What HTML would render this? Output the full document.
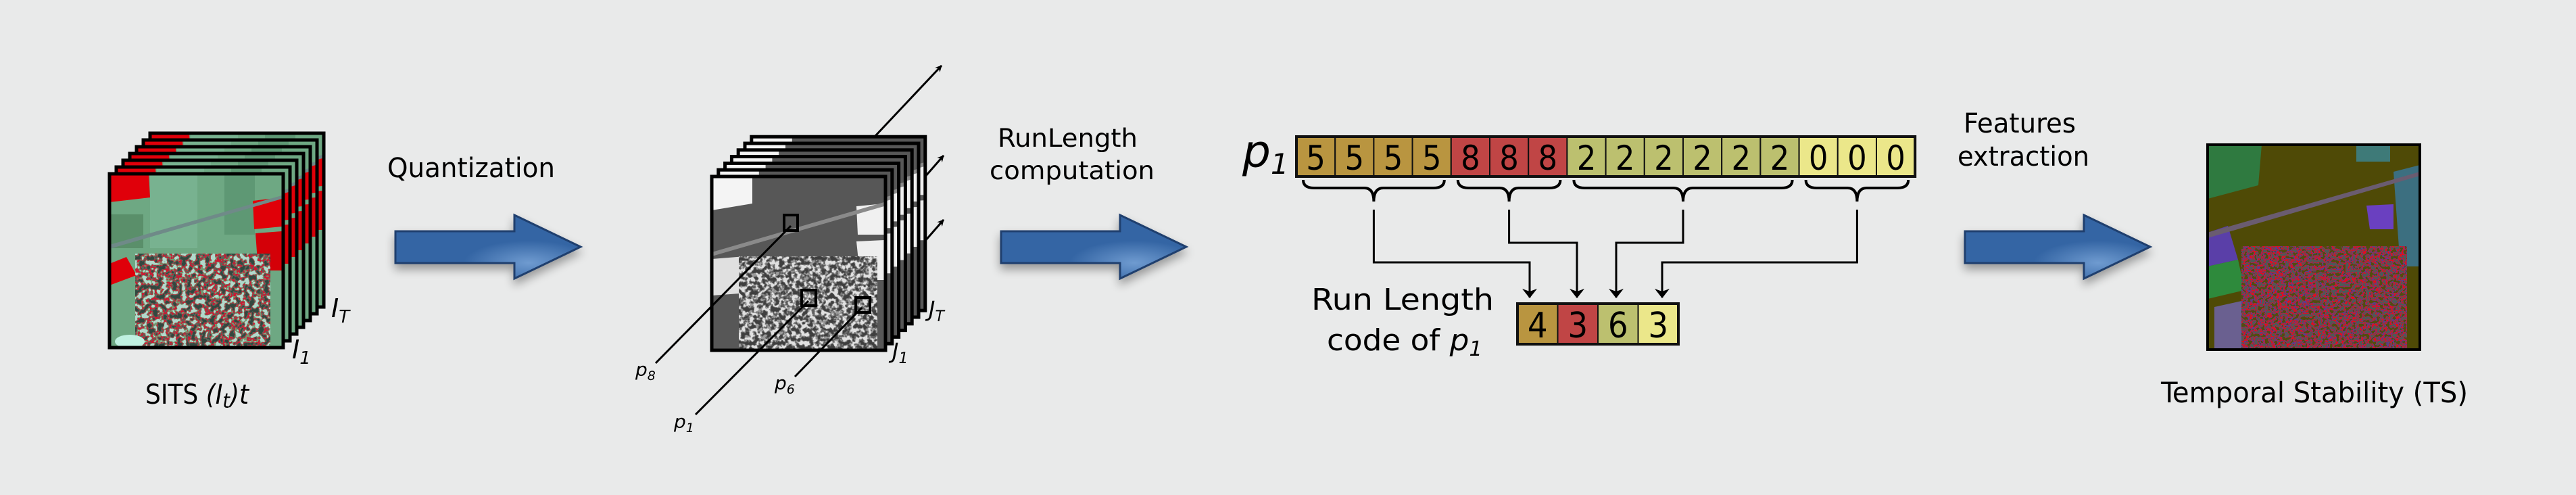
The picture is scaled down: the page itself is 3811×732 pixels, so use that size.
<!DOCTYPE html>
<html><head><meta charset="utf-8"><style>
html,body{margin:0;padding:0;background:#e9eaea;}
svg{display:block;}
filter{color-interpolation-filters:sRGB;}
text{font-family:"DejaVu Sans","Liberation Sans",sans-serif;fill:#000;}
.cond{font-family:"DejaVu Sans Condensed","DejaVu Sans","Liberation Sans",sans-serif;}
</style></head><body>
<svg id="fig" width="3811" height="732" viewBox="0 0 3811 732" xmlns="http://www.w3.org/2000/svg">
<defs>
 <filter id="village" x="0" y="0" width="100%" height="100%" color-interpolation-filters="sRGB">
  <feTurbulence type="fractalNoise" baseFrequency="0.14" numOctaves="2" seed="4"/>
  <feColorMatrix type="matrix" values="3 0 0 0 -1  3 0 0 0 -1  3 0 0 0 -1  0 0 0 0 1"/>
  <feComponentTransfer>
   <feFuncR type="discrete" tableValues="0.2 0.35 0.8 0.45 0.7"/>
   <feFuncG type="discrete" tableValues="0.28 0.4 0.1 0.6 0.85"/>
   <feFuncB type="discrete" tableValues="0.25 0.35 0.2 0.45 0.8"/>
  </feComponentTransfer>
 </filter>
 <filter id="grayvillage" x="0" y="0" width="100%" height="100%" color-interpolation-filters="sRGB">
  <feTurbulence type="fractalNoise" baseFrequency="0.16" numOctaves="2" seed="7"/>
  <feColorMatrix type="matrix" values="3 0 0 0 -1  3 0 0 0 -1  3 0 0 0 -1  0 0 0 0 1"/>
  <feComponentTransfer>
   <feFuncR type="discrete" tableValues="0.25 0.38 0.6 0.88"/>
   <feFuncG type="discrete" tableValues="0.25 0.38 0.6 0.88"/>
   <feFuncB type="discrete" tableValues="0.25 0.38 0.6 0.88"/>
  </feComponentTransfer>
 </filter>
 <filter id="tsnoise" x="0" y="0" width="100%" height="100%" color-interpolation-filters="sRGB">
  <feTurbulence type="fractalNoise" baseFrequency="0.2" numOctaves="2" seed="11"/>
  <feColorMatrix type="matrix" values="3 0 0 0 -1  3 0 0 0 -1  3 0 0 0 -1  0 0 0 0 1"/>
  <feComponentTransfer>
   <feFuncR type="discrete" tableValues="0.33 0.35 0.9 0.3"/>
   <feFuncG type="discrete" tableValues="0.3 0.25 0.05 0.35"/>
   <feFuncB type="discrete" tableValues="0.05 0.55 0.1 0.35"/>
  </feComponentTransfer>
 </filter>
 <radialGradient id="arrowGlow" cx="0.72" cy="0.75" r="0.35">
  <stop offset="0" stop-color="#6f9bd0"/><stop offset="1" stop-color="#3465a4"/>
 </radialGradient>
 <filter id="shadow" x="-20%" y="-20%" width="140%" height="160%" color-interpolation-filters="sRGB">
  <feGaussianBlur in="SourceAlpha" stdDeviation="7"/>
  <feOffset dx="0" dy="8" result="b"/>
  <feComponentTransfer><feFuncA type="linear" slope="0.35"/></feComponentTransfer>
  <feMerge><feMergeNode/><feMergeNode in="SourceGraphic"/></feMerge>
 </filter>
 <marker id="ah" markerWidth="10" markerHeight="10" refX="9" refY="5" orient="auto" markerUnits="userSpaceOnUse">
  <path d="M0,0 L10,5 L0,10 L3,5 Z" fill="#000"/>
 </marker>
 <marker id="ahBig" markerWidth="14" markerHeight="22" refX="13" refY="11" orient="auto" markerUnits="userSpaceOnUse">
  <path d="M0,0 L14,11 L0,22 L4,11 Z" fill="#000"/>
 </marker>
 <clipPath id="sq"><rect x="0" y="0" width="257" height="257"/></clipPath>

 <g id="sitsImg" clip-path="url(#sq)">
  <rect width="257" height="257" fill="#6ea883"/>
  <rect x="60" y="0" width="70" height="110" fill="#78b290"/>
  <rect x="170" y="0" width="45" height="90" fill="#5e9874"/>
  <polygon points="0,0 58,0 60,35 0,42" fill="#e0000a"/>
  <polygon points="212,40 255,35 255,78 214,82" fill="#e00008"/>
  <polygon points="216,88 255,85 255,143 220,143" fill="#d40008"/>
  <polygon points="0,133 25,123 40,150 0,165" fill="#e0000a"/>
  <rect x="0" y="60" width="50" height="50" fill="#5a8f6a"/>
  <rect x="38" y="118" width="200" height="139" filter="url(#village)"/>
  <polygon points="0,105 255,32 255,37 0,111" fill="#6f8a88"/>
  <ellipse cx="30" cy="248" rx="22" ry="10" fill="#bff0e0"/>
 </g>
 <g id="grayImg" clip-path="url(#sq)">
  <rect width="257" height="257" fill="#575757"/>
  <polygon points="0,0 60,0 60,40 0,50" fill="#f4f4f4"/>
  <polygon points="214,44 255,40 255,86 216,86" fill="#f0f0f0"/>
  <polygon points="214,96 255,94 255,153 220,153" fill="#eeeeee"/>
  <polygon points="0,122 50,118 55,172 0,176" fill="#e0e0e0"/>
  <rect x="40" y="118" width="205" height="139" filter="url(#grayvillage)"/>
  <polygon points="0,112 255,38 255,44 0,118" fill="#8a8a8a"/>
 </g>
</defs>

<rect width="3811" height="732" fill="#e9eaea"/>

<g id="sitsStack"></g>
<text x="490" y="469" font-style="italic" font-size="38">I<tspan font-size="26" dy="8">T</tspan></text>
<text x="432" y="530" font-style="italic" font-size="38">I<tspan font-size="26" dy="8">1</tspan></text>
<text class="cond" x="215" y="597" font-size="40">SITS <tspan font-style="italic">(I<tspan font-size="30" dy="6">t</tspan><tspan dy="-6">)t</tspan></tspan></text>

<text class="cond" x="573" y="262" font-size="40" textLength="248" lengthAdjust="spacingAndGlyphs">Quantization</text>
<g id="arrow1"></g>

<g id="grayStack"></g>
<line x1="1294" y1="202" x2="1393" y2="97" stroke="#000" stroke-width="3" marker-end="url(#ah)"/>
<line x1="1368" y1="262" x2="1396" y2="230" stroke="#000" stroke-width="3" marker-end="url(#ah)"/>
<line x1="1368" y1="357" x2="1396" y2="325" stroke="#000" stroke-width="3" marker-end="url(#ah)"/>
<rect x="1160" y="318" width="20" height="23" fill="none" stroke="#000" stroke-width="4"/>
<rect x="1186" y="429" width="21" height="23" fill="none" stroke="#000" stroke-width="4"/>
<rect x="1266" y="440" width="21" height="22" fill="none" stroke="#000" stroke-width="4"/>
<line x1="1170" y1="334" x2="970" y2="537" stroke="#000" stroke-width="3"/>
<line x1="1196" y1="445" x2="1029" y2="613" stroke="#000" stroke-width="3"/>
<line x1="1275" y1="455" x2="1176" y2="557" stroke="#000" stroke-width="3"/>
<text x="940" y="556" font-style="italic" font-size="28">p<tspan font-size="19" dy="6">8</tspan></text>
<text x="997" y="633" font-style="italic" font-size="28">p<tspan font-size="19" dy="6">1</tspan></text>
<text x="1146" y="576" font-style="italic" font-size="28">p<tspan font-size="19" dy="6">6</tspan></text>
<text x="1374" y="468" font-style="italic" font-size="32">J<tspan font-size="22" dy="7">T</tspan></text>
<text x="1320" y="530" font-style="italic" font-size="32">J<tspan font-size="22" dy="7">1</tspan></text>

<text x="1476" y="217" font-size="37" textLength="207" lengthAdjust="spacingAndGlyphs">RunLength</text>
<text x="1464" y="265" font-size="37" textLength="244" lengthAdjust="spacingAndGlyphs">computation</text>
<g id="arrow2"></g>

<text x="1838" y="247" font-style="italic" font-size="66">p<tspan font-size="42" dy="10">1</tspan></text>
<g id="seq"></g>
<g id="braces"></g>
<g id="links"></g>
<g id="code"></g>
<text class="cond" x="1940" y="458" font-size="44" textLength="270" lengthAdjust="spacingAndGlyphs">Run Length</text>
<text class="cond" x="1963" y="518" font-size="44" textLength="230" lengthAdjust="spacingAndGlyphs">code of <tspan font-style="italic">p<tspan font-size="30" dy="8">1</tspan></tspan></text>

<text class="cond" x="2905" y="196" font-size="40" textLength="166" lengthAdjust="spacingAndGlyphs">Features</text>
<text class="cond" x="2896" y="245" font-size="40" textLength="195" lengthAdjust="spacingAndGlyphs">extraction</text>
<g id="arrow3"></g>

<g>
 <svg x="3266" y="214" width="314" height="303" viewBox="0 0 314 303">
  <rect width="314" height="303" fill="#4f4a06"/>
  <polygon points="0,0 80,0 75,60 0,80" fill="#2f7a40"/>
  <rect x="220" y="0" width="50" height="25" fill="#3e7a78"/>
  <polygon points="275,40 314,30 314,180 285,180" fill="#3c6f80"/>
  <polygon points="235,90 275,88 275,125 240,125" fill="#6a40c0"/>
  <polygon points="0,130 30,120 45,170 0,180" fill="#5a3fa8"/>
  <polygon points="0,180 45,170 55,215 0,228" fill="#2e8a3c"/>
  <polygon points="10,240 55,230 60,303 10,303" fill="#6a6090"/>
  <rect x="50" y="150" width="245" height="153" filter="url(#tsnoise)"/>
  <polygon points="0,130 314,40 314,46 0,138" fill="#6a5c70"/>
 </svg>
 <rect x="3266" y="214" width="314" height="303" fill="none" stroke="#000" stroke-width="4"/>
</g>
<text class="cond" x="3197" y="595" font-size="42" textLength="454" lengthAdjust="spacingAndGlyphs">Temporal Stability (TS)</text>
</svg>

<script>
const NS = 'http://www.w3.org/2000/svg';
const seqValues = [5,5,5,5,8,8,8,2,2,2,2,2,2,0,0,0];
const colorKeys = [5,8,2,0];
const colorVals = ['#b99540','#c04545','#bcc06f','#ebe78a'];
function mk(tag, attrs, parent){ const e=document.createElementNS(NS,tag); for(const k in attrs) e.setAttribute(k,attrs[k]); parent.appendChild(e); return e; }
function colorOf(v){ return colorVals[colorKeys.indexOf(v)]; }

function stack(gid, useId, fx, fy, n, step, name){
  const g=document.getElementById(gid);
  for(let i=n-1;i>=0;i--){
    const x=fx+i*step, y=fy-i*step;
    const u=mk('use',{href:'#'+useId, x:x, y:y},g);
    
    
    const r=mk('rect',{x:x,y:y,width:257,height:257,fill:'none',stroke:'#000','stroke-width':5},g);
    
    
  }
}
stack('sitsStack','sitsImg',162,257,7,10,'sits');
stack('grayStack','grayImg',1053,261,7,9.8,'quantized');

function bigArrow(gid,x0){
  const g=document.getElementById(gid);
  const pts=[[0,342],[176,342],[176,318],[274,365],[176,412],[176,389],[0,389]].map(p=>(x0+p[0])+','+p[1]).join(' ');
  const p=mk('polygon',{points:pts,fill:'url(#arrowGlow)',stroke:'#1f3f6e','stroke-width':3,filter:'url(#shadow)'},g);
  
  
}
bigArrow('arrow1',585); bigArrow('arrow2',1481); bigArrow('arrow3',2907);

const seqX0=1918, cellW=57.2, seqY=202, seqH=59;
const seqG=document.getElementById('seq');
seqValues.forEach((v,i)=>{
  const r=mk('rect',{x:seqX0+i*cellW,y:seqY,width:cellW,height:seqH,fill:colorOf(v),stroke:'#111','stroke-width':2},seqG);
  
  
  const t=mk('text',{x:seqX0+i*cellW+cellW/2,y:seqY+49,'font-size':50,'text-anchor':'middle',class:'cond'},seqG);
  t.textContent=v;
  
  
});
mk('rect',{x:seqX0,y:seqY,width:cellW*seqValues.length,height:seqH,fill:'none',stroke:'#111','stroke-width':4},seqG);

const runs=[];
seqValues.forEach((v,i)=>{ if(i===0||v!==seqValues[i-1]) runs.push({v:v,start:i,len:1}); else runs[runs.length-1].len++; });

const bG=document.getElementById('braces');
const tips=[];
runs.forEach(r=>{
  const x1=seqX0+r.start*cellW+10, x2=seqX0+(r.start+r.len)*cellW-10, m=(x1+x2)/2;
  tips.push(m);
  const d=`M${x1},266 Q${x1},278 ${x1+16},278 L${m-14},278 Q${m},278 ${m},298 Q${m},278 ${m+14},278 L${x2-16},278 Q${x2},278 ${x2},266`;
  const p=mk('path',{d:d,fill:'none',stroke:'#000','stroke-width':4},bG);
  
  
});

const codeX0=2245, codeW=59.5, codeY=449, codeH=60;
const cG=document.getElementById('code');
runs.forEach((r,i)=>{
  const rc=mk('rect',{x:codeX0+i*codeW,y:codeY,width:codeW,height:codeH,fill:colorOf(r.v),stroke:'#111','stroke-width':2},cG);
  
  
  const t=mk('text',{x:codeX0+i*codeW+codeW/2,y:codeY+50,'font-size':52,'text-anchor':'middle',class:'cond'},cG);
  t.textContent=r.len;
  
  
});
mk('rect',{x:codeX0,y:codeY,width:codeW*runs.length,height:codeH,fill:'none',stroke:'#111','stroke-width':4},cG);

const lG=document.getElementById('links');
const elbowY=[388,359,359,388];
const dropX=[2263,2333,2391,2459];
tips.forEach((tx,i)=>{
  const d=`M${tx},310 L${tx},${elbowY[i]} L${dropX[i]},${elbowY[i]} L${dropX[i]},440`;
  const p=mk('path',{d:d,fill:'none',stroke:'#000','stroke-width':3,'marker-end':'url(#ahBig)'},lG);
  
  
});
</script>
</body></html>
